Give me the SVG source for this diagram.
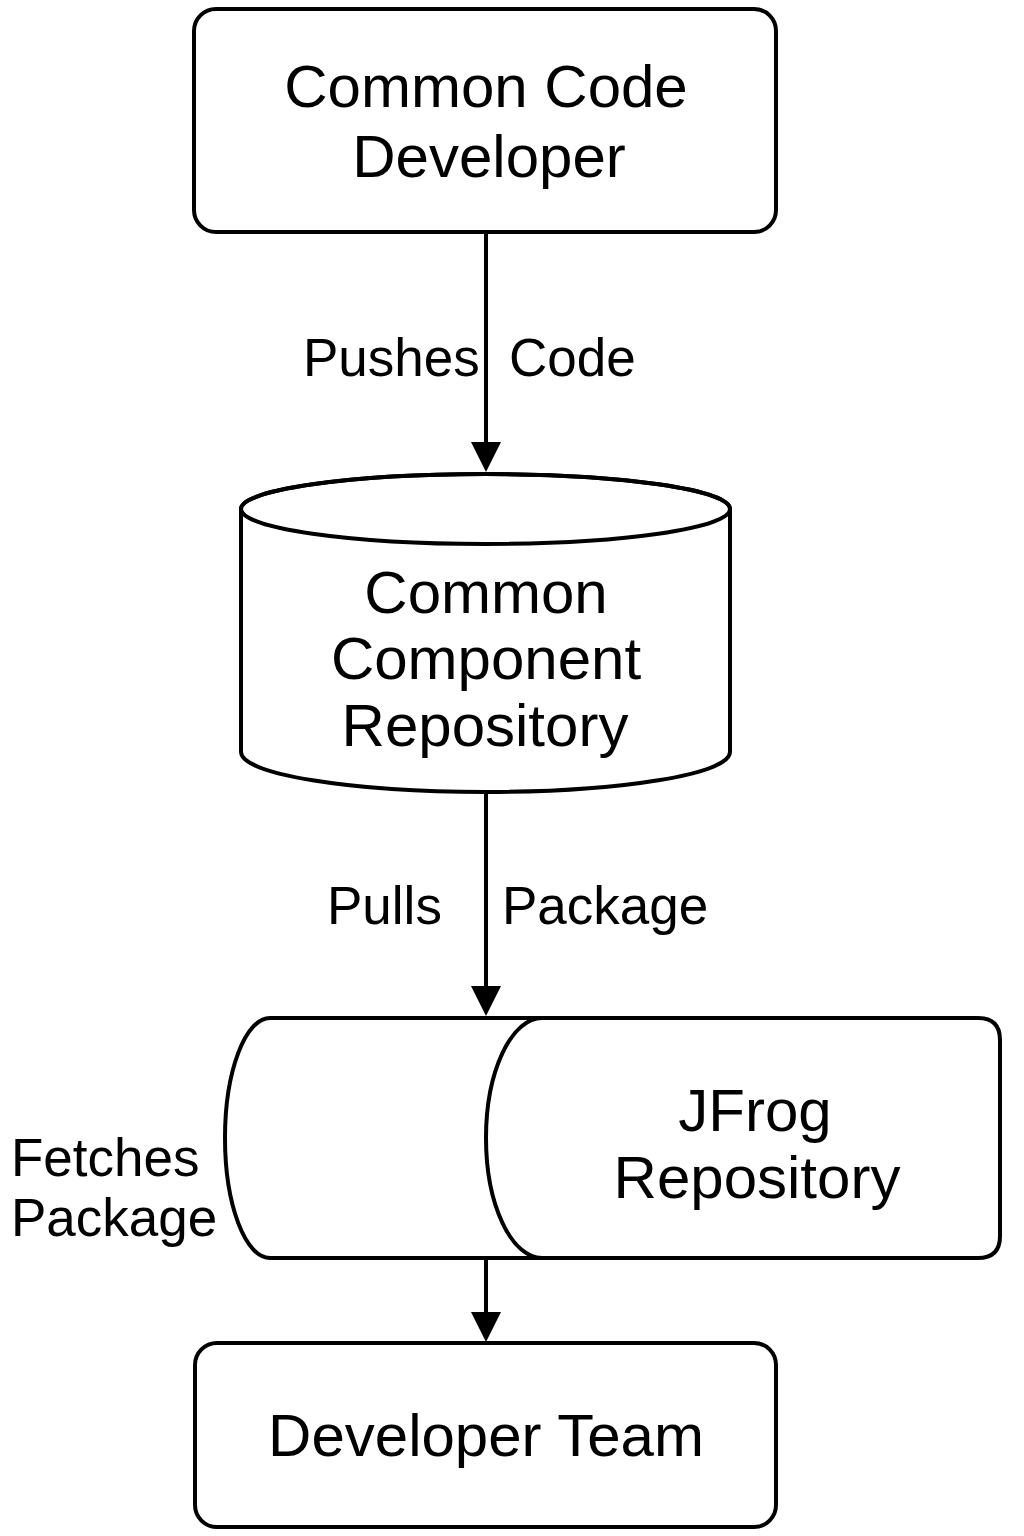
<svg xmlns="http://www.w3.org/2000/svg" width="1024" height="1536" viewBox="0 0 1024 1536">
<defs>
<style>
.shape{fill:#fff;stroke:#000;stroke-width:4}
.line{fill:none;stroke:#000;stroke-width:4}
.node{font-family:"Liberation Sans",Arial,sans-serif;font-size:60px;fill:#000;text-anchor:middle}
.lbl{font-family:"Liberation Sans",Arial,sans-serif;font-size:53px;fill:#000}
</style>
</defs>
<rect width="1024" height="1536" fill="#fff"/>
<g id="connectors">
<line class="line" x1="486" y1="232" x2="486" y2="446"/>
<path d="M471,442 L501,442 L486,472 z" fill="#000"/>
<line class="line" x1="486" y1="792" x2="486" y2="990"/>
<path d="M471,986 L501,986 L486,1016 z" fill="#000"/>
<line class="line" x1="486" y1="1258" x2="486" y2="1316"/>
<path d="M471,1312 L501,1312 L486,1342 z" fill="#000"/>
<text class="lbl" x="303" y="376">Pushes</text>
<text class="lbl" x="509" y="376">Code</text>
<text class="lbl" x="327" y="924">Pulls</text>
<text class="lbl" x="502" y="924">Package</text>
<text class="lbl" x="11" y="1176">Fetches</text>
<text class="lbl" x="11" y="1236">Package</text>
</g>
<g id="common-code-developer">
<rect class="shape" x="194" y="9" width="582" height="223" rx="22"/>
<text class="node" x="486" y="107">Common Code</text>
<text class="node" x="489" y="177">Developer</text>
</g>
<g id="common-component-repository">
<path class="shape" d="M241,509 L241,752 A244.5,40 0 0 0 730,752 L730,509 A244.5,35 0 0 0 241,509 Z"/>
<ellipse class="line" cx="485.5" cy="509" rx="244.5" ry="35"/>
<text class="node" x="486" y="613">Common</text>
<text class="node" x="486" y="679">Component</text>
<text class="node" x="485" y="746">Repository</text>
</g>
<g id="jfrog-repository">
<path class="shape" d="M270,1018 L978,1018 Q1000,1018 1000,1040 L1000,1236 Q1000,1258 978,1258 L270,1258 A45,120 0 0 1 270,1018 Z"/>
<path class="line" d="M542,1018 A56,120 0 0 0 542,1258"/>
<text class="node" x="755" y="1131">JFrog</text>
<text class="node" x="757" y="1198">Repository</text>
</g>
<g id="developer-team">
<rect class="shape" x="195" y="1343" width="581" height="184" rx="22"/>
<text class="node" x="486" y="1456">Developer Team</text>
</g>
</svg>
